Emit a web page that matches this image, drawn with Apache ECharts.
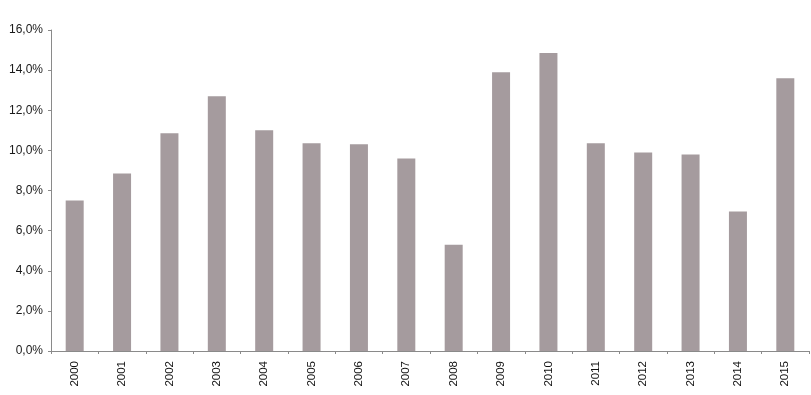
<!DOCTYPE html>
<html><head><meta charset="utf-8">
<script src="https://cdn.jsdelivr.net/npm/echarts@6/dist/echarts.min.js"></script>
<style>html,body{margin:0;padding:0;background:#fff}#c{width:811px;height:395px}</style>
</head><body><div id="c"></div>
<script>
var categories = ['2000','2001','2002','2003','2004','2005','2006','2007','2008','2009','2010','2011','2012','2013','2014','2015'];
var values = [7.5, 8.85, 10.85, 12.7, 11.0, 10.35, 10.3, 9.6, 5.3, 13.9, 14.85, 10.35, 9.9, 9.8, 6.95, 13.6];
var yTicks = [0, 2, 4, 6, 8, 10, 12, 14, 16];

var chart = echarts.init(document.getElementById('c'));
chart.setOption({
  animation: false,
  grid: {left: 51, right: 2, top: 30, bottom: 44, containLabel: false},
  xAxis: {
    type: 'category', data: categories,
    axisLine: {lineStyle: {color: '#8a8a8a', width: 1}},
    axisTick: {show: true, length: 3, lineStyle: {color: '#8a8a8a'}},
    axisLabel: {rotate: 90, fontFamily: 'Liberation Sans, Arial', fontSize: 11.5, color: '#111', margin: 10}
  },
  yAxis: {
    type: 'value', min: yTicks[0], max: yTicks[yTicks.length-1], interval: 2,
    splitLine: {show: false},
    axisLine: {show: true, lineStyle: {color: '#8a8a8a', width: 1}},
    axisTick: {show: true, length: 3, lineStyle: {color: '#8a8a8a'}},
    axisLabel: {fontFamily: 'Liberation Sans, Arial', fontSize: 12, color: '#1a1a1a', margin: 8,
      formatter: function(v){ return v.toFixed(1).replace('.', ',') + '%'; }}
  },
  series: [{
    type: 'bar', data: values, barWidth: 18,
    itemStyle: {color: '#a59b9e'}
  }]
});
</script></body></html>
